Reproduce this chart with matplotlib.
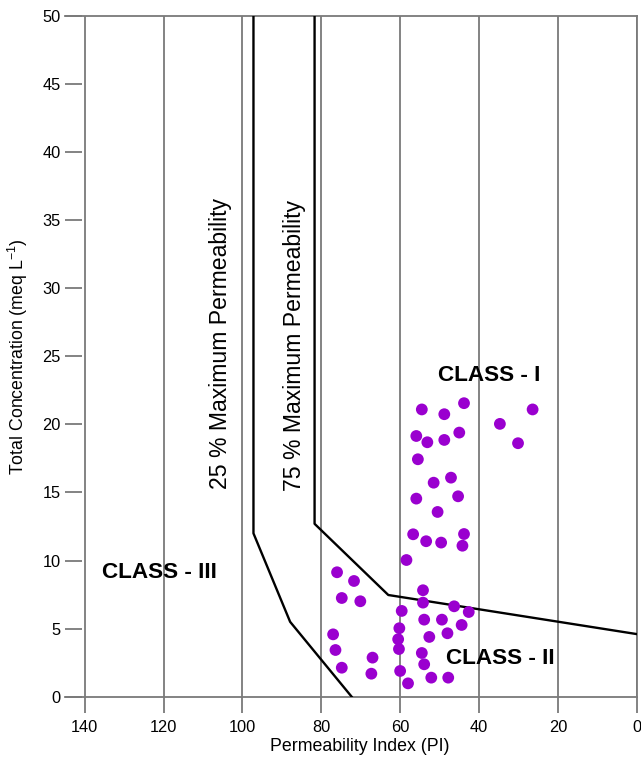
import matplotlib
matplotlib.use("Agg")
import matplotlib.pyplot as plt

plt.rcParams['font.family'] = ['Liberation Sans', 'DejaVu Sans']

# Sample data: Permeability Index (PI) and Total Concentration (meq/L)
pi_values = [54.5, 48.8, 43.8, 34.7, 30.1, 55.9, 53.1, 48.8, 45.0, 55.5,
             51.5, 47.1, 55.9, 45.3, 50.5, 56.7, 53.4, 49.6, 43.8, 44.2,
             58.4, 76.0, 71.7, 74.8, 70.1, 54.2, 54.2, 46.3, 42.6, 59.6,
             53.9, 49.4, 44.4, 60.2, 60.5, 48.0, 52.6, 77.0, 76.4, 60.3,
             54.5, 53.9, 67.0, 74.8, 67.3, 60.0, 52.1, 47.8, 58.0, 26.4]
tc_values = [21.1, 20.75, 21.56, 20.04, 18.62, 19.15, 18.69, 18.86, 19.4, 17.44,
             15.72, 16.09, 14.55, 14.72, 13.57, 11.93, 11.42, 11.32, 11.95, 11.09,
             10.04, 9.14, 8.5, 7.25, 7.01, 7.82, 6.91, 6.64, 6.22, 6.3,
             5.66, 5.66, 5.27, 5.03, 4.22, 4.66, 4.39, 4.58, 3.43, 3.5,
             3.21, 2.38, 2.87, 2.13, 1.69, 1.89, 1.4, 1.4, 0.98, 21.1]

# Doneen class boundary curves
curve25_pi = [97.2, 97.2, 87.9, 72.3]
curve25_tc = [50.0, 12.0, 5.5, 0.0]
curve75_pi = [81.7, 81.7, 63.0, 0.0]
curve75_tc = [50.0, 12.7, 7.47, 4.6]

x_ticks = [140, 120, 100, 80, 60, 40, 20, 0]
y_ticks = [0, 5, 10, 15, 20, 25, 30, 35, 40, 45, 50]

fig = plt.figure(figsize=(6.41, 7.62), dpi=100)
ax = fig.add_axes([65/641, 1-696.7/762, 571.7/641, 680.7/762])

grid_c = '#7a7a7a'
ax.set_xlim(145, 0)
ax.set_ylim(0, 50)
ax.set_xticks(x_ticks)
ax.set_yticks(y_ticks)
ax.grid(axis='x', color=grid_c, linewidth=1.3)
ax.set_axisbelow(True)

ax.spines['left'].set_visible(False)
for s in ['top', 'bottom', 'right']:
    ax.spines[s].set_color(grid_c)
    ax.spines[s].set_linewidth(1.3)

ax.tick_params(axis='x', direction='out', length=11.5, width=1.3, color=grid_c,
               labelsize=11.8, pad=5)
ax.tick_params(axis='y', direction='in', length=12.5, width=1.3, color=grid_c,
               labelsize=11.8, pad=3)

ax.plot(curve25_pi, curve25_tc, color='black', linewidth=1.7, zorder=3)
ax.plot(curve75_pi, curve75_tc, color='black', linewidth=1.7, zorder=3)

ax.scatter(pi_values, tc_values, s=72, color='#9a00cf', edgecolors='none', zorder=4)

ax.text(105.6, 25.95, '25 % Maximum Permeability', rotation=90, fontsize=16.6,
        ha='center', va='center')
ax.text(86.9, 25.8, '75 % Maximum Permeability', rotation=90, fontsize=16.6,
        ha='center', va='center')

ax.text(121.1, 9.09, 'CLASS - III', fontsize=16.2, fontweight='bold', ha='center', va='center')
ax.text(37.4, 23.6, 'CLASS - I', fontsize=16.2, fontweight='bold', ha='center', va='center')
ax.text(34.7, 2.84, 'CLASS - II', fontsize=16.2, fontweight='bold', ha='center', va='center')

ax.set_xlabel('Permeability Index (PI)', fontsize=12.8)
ax.set_ylabel('Total Concentration (meq L$^{\\mathregular{-1}}$)', fontsize=12.8)
ax.xaxis.set_label_coords((360-65)/571.7, -(738-696.7)/680.7)
ax.yaxis.set_label_coords((30-65)/571.7, 0.5)

fig.savefig('out.png', dpi=100)
